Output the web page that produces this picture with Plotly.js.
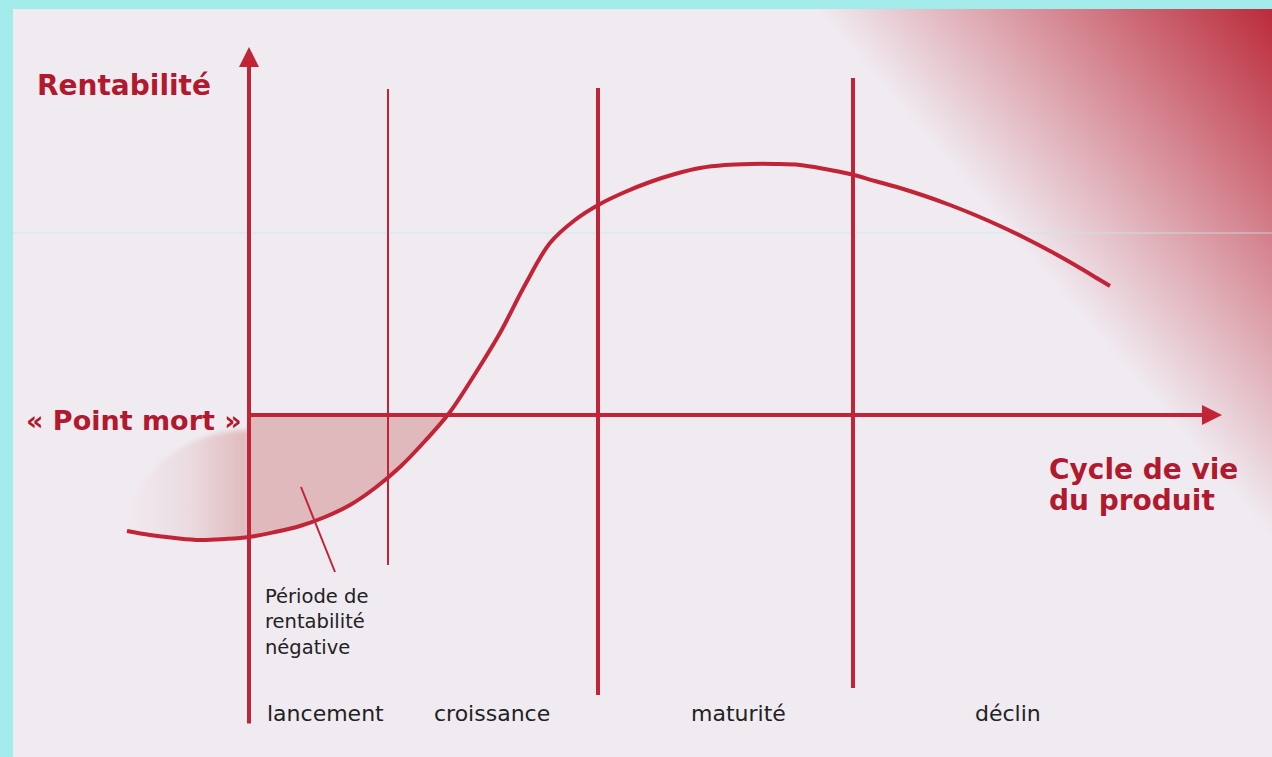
<!DOCTYPE html>
<html>
<head>
<meta charset="utf-8">
<script src="https://cdn.plot.ly/plotly-3.0.1.min.js"></script>
<style>html,body{margin:0;padding:0;background:#a3eaea;}#chart{width:1272px;height:757px;}</style>
</head>
<body>
<div id="chart"></div>
<script>
// ---- data (x: product life time, y: profitability; 0 = break-even) ----
const curveX = [-1.22, -0.99, -0.74, -0.49, -0.24, 0, 0.26, 0.51, 0.76, 1.01, 1.26, 1.51, 1.76, 2.01, 2.26, 2.51, 2.76, 3.01, 3.26, 3.51, 3.76, 4.01, 4.26, 4.51, 4.76, 5.01, 5.26, 5.51, 5.76, 6.01, 6.26, 6.51, 6.76, 7.01, 7.26, 7.51, 7.76, 8.01, 8.26, 8.51, 8.61];
const curveY = [-1.16, -1.20, -1.23, -1.25, -1.24, -1.22, -1.17, -1.11, -1.02, -0.90, -0.73, -0.52, -0.26, 0.03, 0.41, 0.82, 1.30, 1.72, 1.95, 2.11, 2.23, 2.33, 2.41, 2.47, 2.50, 2.51, 2.51, 2.50, 2.46, 2.41, 2.34, 2.27, 2.19, 2.10, 2.00, 1.89, 1.77, 1.64, 1.50, 1.35, 1.29];
const breakEvenX = 2.01;
const phaseBounds = [1.39, 3.49, 6.04];
const phaseTop = [3.26, 3.27, 3.37];
const phaseBottom = [-1.50, -2.80, -2.73];
const phaseLabels = ['lancement', 'croissance', 'maturité', 'déclin'];
const phaseLabelX = [0.76, 2.43, 4.89, 7.59];
const yAxisExtent = [-3.10, 3.68];
const xAxisExtent = [0, 9.73];
const pointerFrom = [0.52, -0.72];
const pointerTo = [0.86, -1.57];

// ---- styles ----
const RED = '#c12337', TXT_RED = '#b0192e', PANEL = '#f0ebf1', PINK = '#dfb9bc', DARK = '#222222';
const boundWidths = [2, 4, 4];
const FONT = 'DejaVu Sans, Verdana, sans-serif';

// decorative background gradients (panel coordinates)
const svg = "<svg xmlns='http://www.w3.org/2000/svg' width='1259' height='748' viewBox='0 0 1259 748' preserveAspectRatio='none'>" +
  "<defs>" +
  "<linearGradient id='g1' gradientUnits='userSpaceOnUse' x1='997' y1='226' x2='1259' y2='0'>" +
  "<stop offset='0' stop-color='#c0303f' stop-opacity='0'/>" +
  "<stop offset='1' stop-color='#bb2b3b' stop-opacity='1'/>" +
  "</linearGradient>" +
  "<linearGradient id='g2' gradientUnits='userSpaceOnUse' x1='111' y1='0' x2='236' y2='0'>" +
  "<stop offset='0' stop-color='" + PINK + "' stop-opacity='0'/>" +
  "<stop offset='0.5' stop-color='" + PINK + "' stop-opacity='0.3'/>" +
  "<stop offset='0.8' stop-color='" + PINK + "' stop-opacity='0.7'/>" +
  "<stop offset='1' stop-color='" + PINK + "' stop-opacity='1'/>" +
  "</linearGradient>" +
  "<filter id='b'><feGaussianBlur stdDeviation='2.5'/></filter>" +
  "</defs>" +
  "<rect x='0' y='0' width='1259' height='748' fill='url(#g1)'/>" +
  "<path d='M236,421 A125,110 0 0 0 236,641 Z' fill='url(#g2)' filter='url(#b)'/>" +
  "</svg>";
const svgURI = 'data:image/svg+xml;charset=utf-8,' + encodeURIComponent(svg);

// subsets built from the curve data
const maskX = [], maskY = [], floorY = [], negX = [], negY = [];
curveX.forEach((x, i) => {
  if (x <= 1.01) { maskX.push(x); maskY.push(curveY[i]); floorY.push(-2.5); }
  if (x >= 0 && x <= breakEvenX) { negX.push(x); negY.push(curveY[i]); }
});

const traces = [
  {x: maskX, y: floorY, mode: 'lines', line: {width: 0}, hoverinfo: 'skip', showlegend: false},
  {x: maskX, y: maskY, mode: 'lines', line: {width: 0, shape: 'spline', simplify: false}, fill: 'tonexty', fillcolor: PANEL, hoverinfo: 'skip', showlegend: false},
  {x: [0, breakEvenX], y: [0, 0], mode: 'lines', line: {width: 0}, hoverinfo: 'skip', showlegend: false},
  {x: negX, y: negY, mode: 'lines', line: {width: 0, shape: 'spline', simplify: false}, fill: 'tonexty', fillcolor: PINK, hoverinfo: 'skip', showlegend: false},
  {x: curveX, y: curveY, mode: 'lines', line: {color: RED, width: 4, shape: 'spline', smoothing: 1, simplify: false}, hoverinfo: 'skip', showlegend: false}
];

const shapes = phaseBounds.map((b, i) => ({
  type: 'line', xref: 'x', yref: 'y', x0: b, x1: b, y0: phaseBottom[i], y1: phaseTop[i],
  line: {color: RED, width: boundWidths[i]}
}));
shapes.push({type: 'line', xref: 'x', yref: 'y', x0: pointerFrom[0], y0: pointerFrom[1], x1: pointerTo[0], y1: pointerTo[1], line: {color: RED, width: 2}});
// thin scan seam in the original picture
shapes.push({type: 'line', xref: 'paper', yref: 'y', x0: 0, x1: 1, y0: 1.82, y1: 1.82, layer: 'below', line: {color: 'rgba(190,235,235,0.8)', width: 1}});

const annotations = [
  {x: 0, y: yAxisExtent[1], ax: 0, ay: yAxisExtent[0], xref: 'x', yref: 'y', axref: 'x', ayref: 'y', text: '', showarrow: true, arrowhead: 2, arrowsize: 1, arrowwidth: 4, arrowcolor: RED, standoff: 0},
  {x: xAxisExtent[1], y: 0, ax: xAxisExtent[0], ay: 0, xref: 'x', yref: 'y', axref: 'x', ayref: 'y', text: '', showarrow: true, arrowhead: 2, arrowsize: 1, arrowwidth: 4, arrowcolor: RED, standoff: 0},
  {x: -2.14, y: 3.30, xref: 'x', yref: 'y', xanchor: 'left', yanchor: 'middle', showarrow: false, text: '<b>Rentabilité</b>', font: {family: FONT, size: 28, color: TXT_RED}},
  {x: -0.05, y: -0.05, xref: 'x', yref: 'y', xanchor: 'right', yanchor: 'middle', showarrow: false, text: '<b>« Point mort »</b>', font: {family: FONT, size: 27, color: TXT_RED}},
  {x: 7.98, y: -0.54, xref: 'x', yref: 'y', xanchor: 'left', yanchor: 'middle', showarrow: false, text: '<b>Cycle de vie</b>', font: {family: FONT, size: 28, color: TXT_RED}},
  {x: 7.98, y: -0.85, xref: 'x', yref: 'y', xanchor: 'left', yanchor: 'middle', showarrow: false, text: '<b>du produit</b>', font: {family: FONT, size: 28, color: TXT_RED}},
  {x: 0.14, y: -1.68, xref: 'x', yref: 'y', xanchor: 'left', yanchor: 'top', align: 'left', showarrow: false, text: 'Période de<br>rentabilité<br>négative', font: {family: FONT, size: 19.5, color: DARK}}
];
phaseLabels.forEach((t, i) => annotations.push({
  x: phaseLabelX[i], y: -2.98, xref: 'x', yref: 'y', xanchor: 'center', yanchor: 'middle', showarrow: false,
  text: t, font: {family: FONT, size: 22, color: DARK}
}));

const layout = {
  width: 1272, height: 757,
  margin: {l: 13, t: 9, r: 0, b: 0, pad: 0},
  paper_bgcolor: '#a3eaea', plot_bgcolor: PANEL,
  xaxis: {range: [-2.36, 10.23], visible: false, fixedrange: true},
  yaxis: {range: [-3.42, 4.06], visible: false, fixedrange: true},
  showlegend: false,
  images: [{source: svgURI, xref: 'paper', yref: 'paper', x: 0, y: 1, sizex: 1, sizey: 1, sizing: 'stretch', xanchor: 'left', yanchor: 'top', layer: 'below'}],
  shapes: shapes,
  annotations: annotations
};

Plotly.newPlot('chart', traces, layout, {staticPlot: true, displayModeBar: false});
</script>
</body>
</html>
